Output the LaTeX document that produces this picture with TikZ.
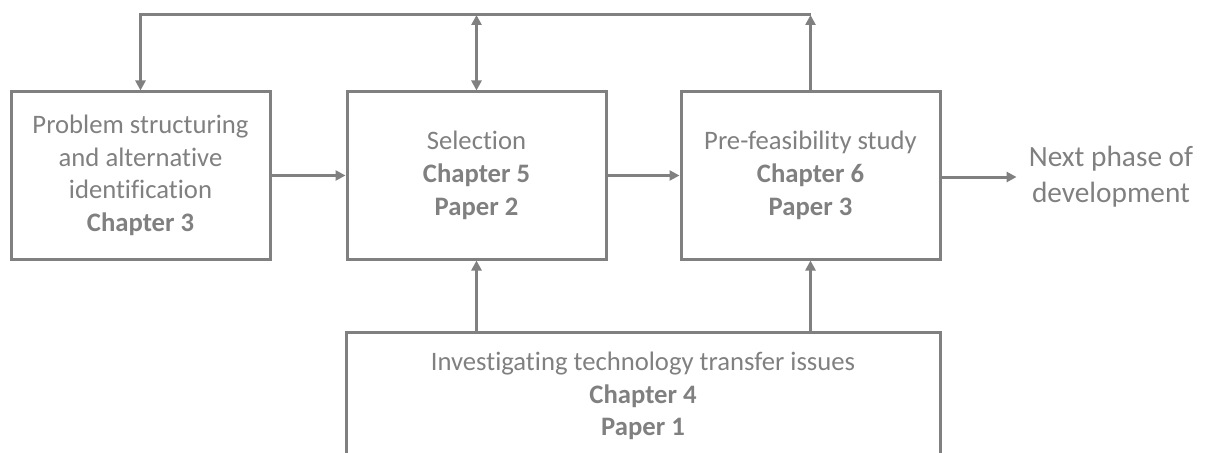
\documentclass[tikz,border=0pt]{standalone}
\usepackage{fontspec}
\setmainfont{Carlito}[Ligatures={NoCommon,NoContextual}]
\usetikzlibrary{arrows.meta}
\definecolor{flowgray}{HTML}{808080}
\begin{document}
\begin{tikzpicture}[x=0.75pt,y=-0.75pt,
  every node/.style={text=flowgray},
  stage/.style={draw=flowgray,line width=2.25pt,rectangle,align=center,
    minimum width=194.25pt,minimum height=125.25pt,inner sep=0pt,
    font=\fontsize{20}{24.5}\selectfont},
  link/.style={draw=flowgray,line width=2.25pt},
  arr/.style={link,-{Triangle[length=7.5pt,width=7.5pt]}},
  arrboth/.style={link,{Triangle[length=7.5pt,width=7.5pt]}-{Triangle[length=7.5pt,width=7.5pt]}}]
\useasboundingbox (0,0) rectangle (1206,453);

% main stages
\node[stage] (prob) at (140.5,175.5) {Problem structuring\\and alternative\\identification\\\textbf{Chapter 3}};
\node[stage] (sel) at (476.5,175.5) {Selection\\\textbf{Chapter 5}\\\textbf{Paper 2}};
\node[stage] (pre) at (810.5,175.5) {Pre-feasibility study\\\textbf{Chapter 6}\\\textbf{Paper 3}};

% supporting investigation, running off the lower edge
\node[stage,minimum width=445.5pt,minimum height=96pt] (inv) at (643,396)
  {Investigating technology transfer issues\\\textbf{Chapter 4}\\\textbf{Paper 1}};

% outcome
\node[text=flowgray,align=center,inner xsep=9pt,inner ysep=0pt,
  font=\fontsize{22}{27}\selectfont] (next) at (1111,177) {Next phase of\\development};

% feedback loop along the top
\coordinate (tl) at (prob.north |- 0,15);
\coordinate (tr) at (pre.north |- 0,15);
\draw[arr] (tr) -- (tl) -- (prob.north);
\draw[arr] (pre.north) -- (tr);
\draw[arrboth] (sel.north |- tl) -- (sel.north);

% forward flow
\draw[arr] (prob.east) -- (sel.west);
\draw[arr] (sel.east) -- (pre.west);
\draw[arr] (pre.east |- next.west) -- (next.west);

% inputs from the investigation
\draw[arr] (inv.north -| sel.south) -- (sel.south);
\draw[arr] (inv.north -| pre.south) -- (pre.south);
\end{tikzpicture}
\end{document}
